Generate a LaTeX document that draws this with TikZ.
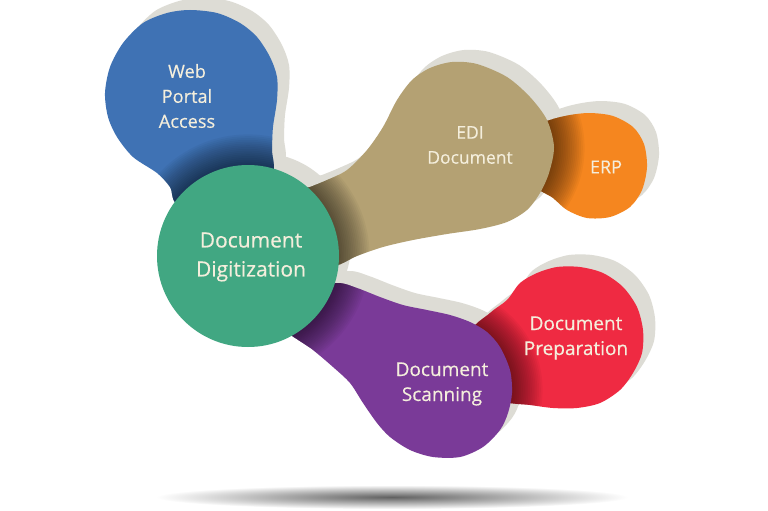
\documentclass[tikz,border=0pt]{standalone}
\usepackage{fontspec}
\setmainfont{Open Sans}
\newfontfamily\lblfont{Open Sans}[FakeBold=0.35]

\definecolor{blobblue}{HTML}{3F72B4}
\definecolor{blobgreen}{HTML}{41A782}
\definecolor{blobtan}{HTML}{B4A173}
\definecolor{bloborange}{HTML}{F5861F}
\definecolor{blobpurple}{HTML}{7A3A98}
\definecolor{blobred}{HTML}{EF2A42}
\definecolor{backshade}{HTML}{DDDCD5}
\definecolor{labeltext}{HTML}{F4EEDC}

% dark rim cast by an overlapping circle (centre x, centre y, radius)
\newcommand{\rimshadow}[3]{%
  \foreach \k in {0,...,17}{\fill[black,opacity=0.036] (#1,#2) circle ({#3+1.8*\k});}}

\tikzset{
  lbl/.style={text=labeltext, align=center, inner sep=0pt},
  webblob/.style={insert path={plot[smooth cycle,tension=0.5] coordinates {
    (180,205) (170,187) (157,173) (133,157) (117,137) (108,117) (105,93)
    (110,67) (123,43) (143,23) (167,13) (190,10) (217,13) (240,23) (257,37)
    (270,57) (277,77) (277,100) (273,127) (272,150) (272,175) (240,200)}}},
  ediblob/.style={insert path={plot[smooth cycle,tension=0.5] coordinates {
    (290,195) (310,187) (327,180) (347,170) (367,150) (383,127) (397,100)
    (412,80) (430,68) (452,62) (477,64) (507,77) (530,97) (547,120) (554,147)
    (549,173) (540,193) (527,210) (507,222) (480,229) (447,234) (413,240)
    (383,247) (357,256) (335,266) (300,270)}}},
  erpblob/.style={insert path={plot[smooth cycle,tension=0.5] coordinates {
    (530,130) (550,120) (570,115) (590,113) (613,116) (633,127) (644,144)
    (647,167) (642,190) (630,207) (610,217) (587,218) (567,210) (553,198)
    (530,180)}}},
  scanblob/.style={insert path={plot[smooth cycle,tension=0.5] coordinates {
    (300,290) (337,283) (357,288) (380,297) (403,305) (427,310) (450,315)
    (470,322) (487,332) (500,347) (510,370) (512,393) (508,413) (500,430)
    (483,447) (460,457) (433,457) (410,450) (390,437) (377,423) (363,403)
    (350,383) (333,367) (313,350) (275,320)}}},
  prepblob/.style={insert path={plot[smooth cycle,tension=0.5] coordinates {
    (470,335) (490,313) (507,300) (520,283) (537,273) (557,267) (580,267)
    (603,273) (623,287) (637,307) (643,330) (642,353) (633,373) (620,390)
    (600,403) (577,408) (553,408) (530,405) (505,402) (480,390)}}},
  hubdisc/.style={insert path={(248,256) circle (91)}}
}

\begin{document}
\begin{tikzpicture}[x=1pt,y=-1pt]
  \fill[white] (0,0) rectangle (768,511);
  \useasboundingbox (0,0) rectangle (768,511);

  % floor shadow
  \shade[inner color=black!62, outer color=white] (392,497) ellipse (236 and 12);

  % pale offset backs of every shape
  \begin{scope}[shift={(12,-12)}]
    \fill[backshade, erpblob];
    \fill[backshade, ediblob];
    \fill[backshade, prepblob];
    \fill[backshade, scanblob];
    \fill[backshade, webblob];
    \fill[backshade, hubdisc];
  \end{scope}

  % ERP
  \fill[bloborange, erpblob];
  \begin{scope}
    \clip[erpblob];
    \rimshadow{477}{148}{77}
  \end{scope}

  % EDI Document
  \fill[blobtan, ediblob];
  \begin{scope}
    \clip[ediblob];
    \rimshadow{248}{256}{91}
  \end{scope}

  % Document Preparation
  \fill[blobred, prepblob];
  \begin{scope}
    \clip[prepblob];
    \rimshadow{440}{390}{72}
  \end{scope}

  % Document Scanning
  \fill[blobpurple, scanblob];
  \begin{scope}
    \clip[scanblob];
    \rimshadow{248}{256}{91}
  \end{scope}

  % Web Portal Access
  \fill[blobblue, webblob];
  \begin{scope}
    \clip[webblob];
    \rimshadow{248}{256}{91}
  \end{scope}

  % Document Digitization hub
  \fill[blobgreen, hubdisc];

  % labels
  \node[lbl, font=\lblfont\fontsize{18.2}{25}\selectfont] (web) at (187,96) {Web\\Portal\\Access};
  \node[lbl, font=\lblfont\fontsize{21}{29}\selectfont] (hub) at (251,257) {Document\\Digitization};
  \node[lbl, font=\lblfont\fontsize{17.5}{25}\selectfont] (edi) at (470,145) {EDI\\Document};
  \node[lbl, font=\lblfont\fontsize{18}{22}\selectfont] (erp) at (606,167) {ERP};
  \node[lbl, font=\lblfont\fontsize{19}{25}\selectfont] (scan) at (442,384) {Document\\Scanning};
  \node[lbl, font=\lblfont\fontsize{19}{25}\selectfont] (prep) at (576,338) {Document\\Preparation};
\end{tikzpicture}
\end{document}
